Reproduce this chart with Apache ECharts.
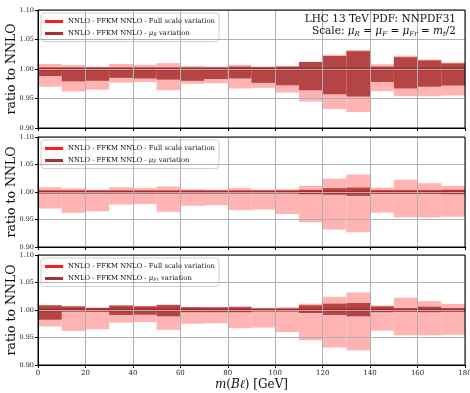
<!DOCTYPE html>
<html>
<head>
<meta charset="utf-8">
<script src="https://cdn.jsdelivr.net/npm/echarts@6/dist/echarts.min.js"></script>
<style>
  html, body { margin: 0; padding: 0; background: #fff; }
  #chart { width: 470px; height: 393px; }
</style>
</head>
<body>
<div id="chart"></div>
<script>
// bins of m(Bl), 10 GeV wide
var binLow  = [0, 10, 20, 30, 40, 50, 60, 70, 80, 90, 100, 110, 120, 130, 140, 150, 160, 170];
var binHigh = [10, 20, 30, 40, 50, 60, 70, 80, 90, 100, 110, 120, 130, 140, 150, 160, 170, 180];
var central = [1, 1, 1, 1, 1, 1, 1, 1, 1, 1, 1, 1, 1, 1, 1, 1, 1, 1];

// full scale variation (same in every panel)
var fullHi = [1.0085, 1.0067, 1.004, 1.0085, 1.007, 1.010, 1.005, 1.004, 1.007, 1.004, 1.005, 1.0115, 1.024, 1.032, 1.008, 1.0225, 1.016, 1.011];
var fullLo = [0.970, 0.962, 0.965, 0.977, 0.978, 0.964, 0.975, 0.976, 0.967, 0.968, 0.960, 0.945, 0.932, 0.927, 0.9625, 0.954, 0.954, 0.955];

// single-scale variations
var muRHi = [1.002, 1.002, 1.002, 1.002, 1.002, 1.002, 1.002, 1.002, 1.004, 1.003, 1.004, 1.012, 1.022, 1.030, 1.004, 1.020, 1.0145, 1.0095];
var muRLo = [0.988, 0.979, 0.980, 0.985, 0.984, 0.982, 0.980, 0.983, 0.984, 0.9765, 0.9725, 0.964, 0.957, 0.9535, 0.978, 0.967, 0.970, 0.972];
var muFHi = [1.002, 1.002, 1.002, 1.002, 1.002, 1.002, 1.002, 1.002, 1.002, 1.002, 1.002, 1.004, 1.007, 1.008, 1.003, 1.003, 1.003, 1.004];
var muFLo = [0.998, 0.998, 0.998, 0.998, 0.998, 0.998, 0.998, 0.998, 0.998, 0.998, 0.998, 0.996, 0.995, 0.993, 0.997, 0.997, 0.997, 0.996];
var muFrHi = [1.0085, 1.0065, 1.004, 1.008, 1.0067, 1.009, 1.005, 1.005, 1.005, 1.002, 1.002, 1.0085, 1.0115, 1.0127, 1.0067, 1.003, 1.006, 1.003];
var muFrLo = [0.9824, 0.9976, 0.997, 0.991, 0.9915, 0.9885, 0.996, 0.996, 0.996, 0.998, 0.998, 0.9945, 0.991, 0.9885, 0.996, 0.997, 0.996, 0.997];

var FONT = "'DejaVu Serif', serif";
var C = { light: "#ffb3b3", dark: "#b54545", line: "#a82a2a", legRed: "#ff1a1a", legDark: "#a83232", grid: "#b0b0b0" };

var FULL_NAME = "NNLO - FFKM NNLO - Full scale variation";
var labelOf = {
  muR: "NNLO - FFKM NNLO - {i|μ}{s|R} variation",
  muF: "NNLO - FFKM NNLO - {i|μ}{s|F} variation",
  muFr: "NNLO - FFKM NNLO - {i|μ}{s|Fr} variation"
};

function rows(lo, hi) {
  return binLow.map(function (b, i) { return [b, binHigh[i], lo[i], hi[i]]; });
}

function bandRender(color) {
  return function (params, api) {
    var p0 = api.coord([api.value(0), api.value(3)]);
    var p1 = api.coord([api.value(1), api.value(2)]);
    return {
      type: "rect",
      shape: { x: p0[0], y: p0[1], width: p1[0] - p0[0], height: p1[1] - p0[1] },
      style: { fill: color, stroke: null, lineWidth: 0 }
    };
  };
}

function lineRender(params, api) {
  var p0 = api.coord([api.value(0), api.value(2)]);
  var p1 = api.coord([api.value(1), api.value(2)]);
  return {
    type: "line",
    shape: { x1: p0[0], y1: p0[1], x2: p1[0], y2: p1[1] },
    style: { stroke: C.line, lineWidth: 3 }
  };
}

var panels = [
  { key: "muR", hi: muRHi, lo: muRLo, top: 10, height: 118 },
  { key: "muF", hi: muFHi, lo: muFLo, top: 137, height: 110 },
  { key: "muFr", hi: muFrHi, lo: muFrLo, top: 255, height: 110 }
];

var grids = [], xAxes = [], yAxes = [], series = [], legends = [];

panels.forEach(function (p, k) {
  var last = k === panels.length - 1;
  grids.push({ left: 38, width: 427, top: p.top, height: p.height, show: true,
    containLabel: false, outerBoundsMode: "none",
    borderColor: "#000", borderWidth: 1, z: 5, backgroundColor: "transparent" });
  xAxes.push({
    gridIndex: k, type: "value", min: 0, max: 180, interval: 20, z: 4,
    axisLine: { show: true, lineStyle: { color: "#000", width: 1 } },
    axisTick: { show: true, inside: false, length: 3, lineStyle: { color: "#000" } },
    axisLabel: { show: last, fontSize: 7, color: "#222", fontFamily: FONT, margin: 5 },
    splitLine: { show: true, lineStyle: { color: C.grid, width: 1 } },
    name: last ? "{i|m}({i|Bℓ}) [GeV]" : "",
    nameLocation: "middle", nameGap: 14,
    nameTextStyle: { fontSize: 12, fontFamily: FONT, color: "#111",
      rich: { i: { fontStyle: "italic", fontSize: 12, fontFamily: FONT, color: "#111" } } }
  });
  yAxes.push({
    gridIndex: k, type: "value", min: 0.9, max: 1.1, interval: 0.05, z: 4,
    axisLine: { show: true, lineStyle: { color: "#000", width: 1 } },
    axisTick: { show: true, inside: false, length: 3, lineStyle: { color: "#000" } },
    axisLabel: { fontSize: 6.5, color: "#222", fontFamily: FONT, margin: 4,
      formatter: function (v) { return v.toFixed(2); } },
    splitLine: { show: true, lineStyle: { color: C.grid, width: 1 } },
    name: "ratio to NNLO", nameLocation: "middle", nameGap: 20, nameRotate: 90,
    nameMoveOverlap: false,
    nameTextStyle: { fontSize: 12.5, fontFamily: FONT, color: "#111" }
  });
  series.push({
    name: FULL_NAME, type: "custom", xAxisIndex: k, yAxisIndex: k, z: 1,
    color: C.legRed, renderItem: bandRender(C.light),
    encode: { x: [0, 1], y: [2, 3] }, data: rows(fullLo, fullHi), silent: true
  });
  series.push({
    name: p.key, type: "custom", xAxisIndex: k, yAxisIndex: k, z: 2,
    color: C.legDark, renderItem: bandRender(C.dark),
    encode: { x: [0, 1], y: [2, 3] }, data: rows(p.lo, p.hi), silent: true
  });
  series.push({
    name: "central", type: "custom", xAxisIndex: k, yAxisIndex: k, z: 3,
    renderItem: lineRender,
    encode: { x: [0, 1], y: 2 }, data: rows(central, central), silent: true
  });
  legends.push({
    left: 41, top: p.top + 3, orient: "vertical", itemGap: 5,
    itemWidth: 18, itemHeight: 3, icon: "rect",
    padding: [5, 4, 4, 4],
    backgroundColor: "rgba(255,255,255,0.85)", borderColor: "#d0d0d0", borderWidth: 1, borderRadius: 3,
    selectedMode: false,
    data: [
      { name: FULL_NAME, icon: "path://M0,0H18V3H0Z",
        itemStyle: { color: C.legRed, borderWidth: 0, borderColor: "transparent" }, lineStyle: { width: 0 } },
      { name: p.key, icon: "path://M0,0H18V3H0Z",
        itemStyle: { color: C.legDark, borderWidth: 0, borderColor: "transparent" }, lineStyle: { width: 0 } }
    ],
    formatter: function (name) { return labelOf[name] || name; },
    textStyle: { fontSize: 6.8, fontFamily: FONT, color: "#111",
      rich: {
        i: { fontStyle: "italic", fontSize: 6.8, fontFamily: FONT, color: "#111" },
        s: { fontStyle: "italic", fontSize: 4.8, fontFamily: FONT, color: "#111", verticalAlign: "bottom", padding: [3, 0, 0, 0] }
      } }
  });
});

var chart = echarts.init(document.getElementById("chart"), null, { renderer: "canvas" });
chart.setOption({
  animation: false,
  backgroundColor: "#fff",
  grid: grids,
  xAxis: xAxes,
  yAxis: yAxes,
  legend: legends,
  series: series,
  graphic: [
    { type: "text", right: 14, top: 14, z: 10,
      style: { text: "LHC 13 TeV PDF: NNPDF31", font: "10.5px " + FONT, fill: "#111" } },
    { type: "text", right: 14, top: 26, z: 10,
      style: {
        text: "Scale: {i|μ}{s|R} = {i|μ}{s|F} = {i|μ}{s|Fr} = {i|m}{s|t}/2",
        font: "10.5px " + FONT, fill: "#111",
        rich: {
          i: { fontStyle: "italic", fontSize: 10.5, fontFamily: FONT, fill: "#111" },
          s: { fontStyle: "italic", fontSize: 7, fontFamily: FONT, fill: "#111", verticalAlign: "bottom", padding: [5, 0, 0, 0] }
        }
      } }
  ]
});
</script>
</body>
</html>
